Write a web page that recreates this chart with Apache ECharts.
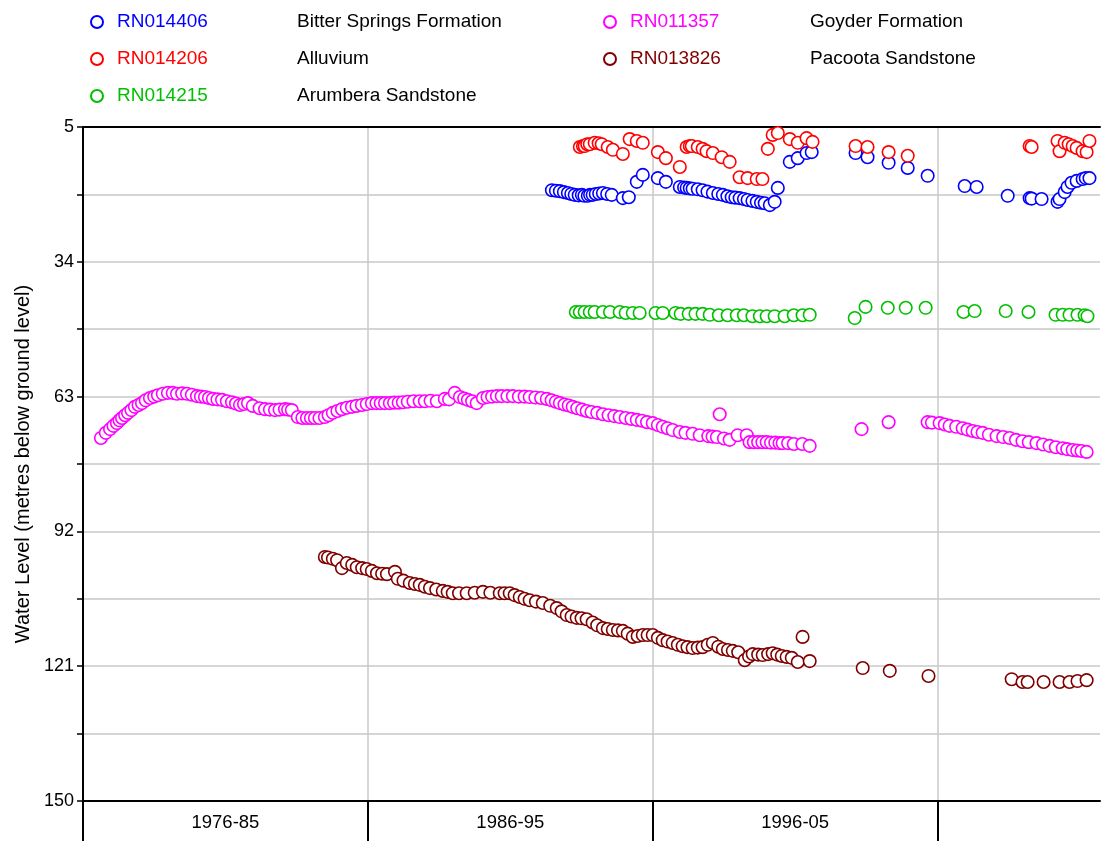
<!DOCTYPE html>
<html>
<head>
<meta charset="utf-8">
<script src="https://cdn.jsdelivr.net/npm/echarts@6/dist/echarts.min.js"></script>
<style>
  html, body { margin: 0; padding: 0; background: #fff; }
  #main { width: 1104px; height: 841px; }
</style>
</head>
<body>
<div id="main"></div>
<script>
// bore names, aquifers and colours
const bores = ["RN014406", "RN014206", "RN014215", "RN011357", "RN013826"];
const aquifers = ["Bitter Springs Formation", "Alluvium", "Arumbera Sandstone", "Goyder Formation", "Pacoota Sandstone"];
const colors = ["#0000ff", "#ff0000", "#00c000", "#ff00ff", "#800000"];

// decade labels, placed at mid-decade
const periodLabels = ["1976-85", "1986-95", "1996-05"];
const periodCentres = [1981, 1991, 2001];
const periodBounds = [1976, 1986, 1996, 2006];
const yTicks = [5, 34, 63, 92, 121, 150];

// [decimal year, water level (m below ground)]
const rn014406 = [
  [1992.46,18.6],[1992.6,18.7],[1992.74,18.8],[1992.88,19.0],[1993.02,19.2],[1993.14,19.4],[1993.26,19.6],
  [1993.4,19.7],[1993.51,19.6],[1993.6,19.8],[1993.72,19.8],[1993.8,19.6],[1993.89,19.6],[1994.0,19.4],
  [1994.12,19.3],[1994.25,19.2],[1994.4,19.4],[1994.56,19.6],[1994.95,20.3],[1995.16,20.1],[1995.44,16.8],[1995.65,15.3],
  [1996.18,16.0],[1996.46,16.8],[1996.95,17.9],[1997.1,18.0],[1997.19,18.1],[1997.3,18.2],[1997.4,18.3],[1997.58,18.4],
  [1997.75,18.6],[1997.92,18.9],[1998.11,19.2],[1998.3,19.4],[1998.46,19.6],[1998.62,19.9],[1998.77,20.1],[1998.9,20.2],
  [1999.05,20.3],[1999.2,20.5],[1999.33,20.7],[1999.5,20.9],[1999.65,21.1],[1999.8,21.3],[1999.93,21.4],[2000.11,21.8],
  [2000.28,21.1],[2000.39,18.1],[2000.81,12.5],[2001.09,11.7],[2001.4,10.6],[2001.58,10.4],
  [2003.12,10.6],[2003.54,11.5],[2004.28,12.7],[2004.95,13.8],[2005.65,15.5],
  [2006.95,17.7],[2007.37,17.9],[2008.46,19.8],[2009.23,20.3],[2009.3,20.4],[2009.65,20.5],[2010.21,21.1],[2010.28,20.5],
  [2010.46,19.0],[2010.56,17.9],[2010.7,17.0],[2010.88,16.6],[2011.09,16.2],[2011.2,16.0],[2011.33,16.0]
];
const rn014206 = [
  [1993.44,9.3],[1993.55,9.1],[1993.61,9.1],[1993.7,8.7],[1993.79,8.7],[1993.96,8.4],[1994.1,8.5],[1994.21,8.7],
  [1994.42,9.3],[1994.6,9.9],[1994.95,10.8],[1995.19,7.6],[1995.44,8.0],[1995.65,8.4],
  [1996.18,10.4],[1996.46,11.7],[1996.95,13.6],[1997.19,9.3],[1997.3,9.1],[1997.37,9.1],[1997.58,9.3],[1997.75,9.7],
  [1997.89,10.2],[1998.11,10.6],[1998.42,11.5],[1998.7,12.5],[1999.05,15.8],[1999.33,16.0],[1999.65,16.2],[1999.85,16.2],
  [2000.04,9.7],[2000.21,6.7],[2000.39,6.3],[2000.81,7.6],[2001.09,8.4],[2001.4,7.4],[2001.61,8.2],
  [2003.12,9.1],[2003.54,9.3],[2004.28,10.4],[2004.95,11.2],
  [2009.23,9.1],[2009.3,9.3],[2010.21,8.0],[2010.28,10.2],[2010.46,8.4],[2010.6,8.7],[2010.74,9.1],[2010.88,9.5],
  [2011.09,10.2],[2011.23,10.4],[2011.33,8.0]
];
const rn014215 = [
  [1993.3,44.8],[1993.44,44.8],[1993.61,44.8],[1993.79,44.8],[1993.96,44.8],[1994.25,44.8],[1994.5,44.8],[1994.84,44.8],
  [1995.05,45.0],[1995.3,45.0],[1995.54,45.0],
  [1996.1,45.0],[1996.35,45.0],[1996.8,45.0],[1996.98,45.2],[1997.26,45.2],[1997.5,45.2],[1997.75,45.2],[1998.0,45.4],
  [1998.32,45.5],[1998.63,45.5],[1998.95,45.5],[1999.2,45.5],[1999.5,45.7],[1999.76,45.7],[2000.0,45.7],[2000.28,45.7],
  [2000.63,45.7],[2000.95,45.5],[2001.26,45.5],[2001.51,45.4],
  [2003.09,46.1],[2003.47,43.7],[2004.25,43.9],[2004.88,43.9],[2005.58,43.9],
  [2006.91,44.8],[2007.3,44.6],[2008.39,44.6],[2009.19,44.8],[2010.14,45.4],[2010.39,45.4],[2010.63,45.4],[2010.91,45.4],
  [2011.16,45.5],[2011.26,45.7]
];
const rn011357 = [
  [1976.63,71.9],[1976.8,70.8],[1976.95,70.0],[1977.07,69.3],[1977.19,68.7],[1977.28,68.1],[1977.37,67.6],[1977.48,67.0],
  [1977.58,66.5],[1977.7,65.9],[1977.82,65.2],[1977.95,64.8],[1978.07,64.4],[1978.2,63.8],[1978.35,63.3],[1978.5,63.0],
  [1978.63,62.7],[1978.8,62.4],[1978.98,62.2],[1979.15,62.2],[1979.3,62.4],[1979.48,62.3],[1979.65,62.4],[1979.82,62.6],
  [1980.0,62.9],[1980.14,63.0],[1980.28,63.1],[1980.42,63.3],[1980.56,63.5],[1980.72,63.6],[1980.88,63.7],[1981.05,64.0],
  [1981.23,64.2],[1981.37,64.5],[1981.51,64.8],[1981.65,64.6],[1981.79,64.4],[1981.96,65.0],[1982.2,65.5],[1982.39,65.7],
  [1982.56,65.8],[1982.74,65.9],[1982.9,65.8],[1983.09,65.7],[1983.2,65.8],[1983.33,65.9],[1983.54,67.4],[1983.7,67.6],
  [1983.86,67.6],[1984.0,67.6],[1984.14,67.6],[1984.3,67.6],[1984.49,67.4],[1984.62,67.0],[1984.77,66.5],[1984.93,66.1],
  [1985.09,65.7],[1985.26,65.4],[1985.44,65.2],[1985.6,65.0],[1985.79,64.8],[1985.96,64.6],[1986.14,64.4],[1986.3,64.4],
  [1986.45,64.4],[1986.6,64.4],[1986.77,64.4],[1986.92,64.3],[1987.08,64.3],[1987.23,64.2],[1987.4,64.1],[1987.6,64.0],
  [1987.82,64.0],[1988.0,64.0],[1988.2,63.9],[1988.42,64.0],[1988.7,63.5],[1988.85,63.6],[1989.05,62.2],[1989.23,63.1],
  [1989.38,63.4],[1989.51,63.7],[1989.66,64.0],[1989.82,64.4],[1990.04,63.3],[1990.2,63.1],[1990.36,63.0],[1990.53,62.9],
  [1990.7,62.9],[1990.9,62.9],[1991.09,62.9],[1991.3,63.0],[1991.5,63.0],[1991.68,63.1],[1991.88,63.2],[1992.08,63.3],
  [1992.28,63.5],[1992.45,63.8],[1992.6,64.1],[1992.74,64.4],[1992.9,64.7],[1993.05,64.9],[1993.19,65.2],[1993.35,65.5],
  [1993.52,65.8],[1993.68,66.1],[1993.85,66.3],[1994.05,66.5],[1994.25,66.8],[1994.45,67.0],[1994.65,67.2],[1994.84,67.4],
  [1995.05,67.6],[1995.25,67.8],[1995.44,68.0],[1995.62,68.2],[1995.8,68.5],[1996.0,68.7],[1996.18,69.1],[1996.35,69.5],
  [1996.52,69.8],[1996.7,70.2],[1996.95,70.6],[1997.15,70.8],[1997.4,71.0],[1997.65,71.3],[1997.95,71.5],[1998.1,71.6],
  [1998.25,71.7],[1998.35,66.8],[1998.5,72.0],[1998.7,72.3],[1998.98,71.3],[1999.3,71.3],[1999.4,72.8],[1999.55,72.8],
  [1999.7,72.8],[1999.85,72.8],[2000.0,72.8],[2000.15,72.9],[2000.3,72.9],[2000.45,73.0],[2000.56,73.0],[2000.75,73.0],
  [2000.95,73.2],[2001.25,73.2],[2001.51,73.6],
  [2003.33,70.0],[2004.28,68.5],
  [2005.65,68.5],[2005.8,68.6],[2006.07,68.7],[2006.25,69.0],[2006.42,69.3],[2006.65,69.5],[2006.88,69.8],[2007.05,70.1],
  [2007.23,70.4],[2007.4,70.6],[2007.58,70.8],[2007.8,71.2],[2008.07,71.5],[2008.3,71.7],[2008.53,71.9],[2008.75,72.3],
  [2008.98,72.6],[2009.2,72.8],[2009.47,73.0],[2009.7,73.3],[2009.93,73.6],[2010.15,73.9],[2010.39,74.1],[2010.55,74.3],
  [2010.74,74.5],[2010.9,74.6],[2011.05,74.7],[2011.23,74.9]
];
const rn013826 = [
  [1984.49,97.5],[1984.6,97.6],[1984.77,97.9],[1984.92,98.2],[1985.09,99.9],[1985.26,98.8],[1985.45,99.2],[1985.61,99.7],
  [1985.8,99.9],[1985.96,100.1],[1986.14,100.5],[1986.32,101.0],[1986.5,101.1],[1986.67,101.2],[1986.95,100.7],[1987.05,102.2],
  [1987.25,102.6],[1987.47,103.1],[1987.65,103.3],[1987.82,103.5],[1988.0,103.9],[1988.18,104.2],[1988.4,104.5],[1988.63,104.8],
  [1988.8,105.0],[1988.98,105.3],[1989.2,105.3],[1989.47,105.3],[1989.75,105.2],[1990.04,105.0],[1990.3,105.2],[1990.63,105.3],
  [1990.8,105.3],[1990.98,105.3],[1991.15,105.7],[1991.33,106.1],[1991.5,106.5],[1991.68,106.8],[1991.9,107.1],[1992.14,107.4],
  [1992.4,108.0],[1992.63,108.5],[1992.8,109.2],[1992.98,110.0],[1993.15,110.3],[1993.33,110.6],[1993.5,110.7],[1993.68,110.9],
  [1993.89,111.6],[1994.05,112.2],[1994.25,112.8],[1994.42,113.0],[1994.6,113.2],[1994.78,113.3],[1994.95,113.4],[1995.12,114.0],
  [1995.3,114.7],[1995.47,114.5],[1995.65,114.3],[1995.82,114.3],[1996.0,114.3],[1996.18,114.9],[1996.35,115.4],[1996.52,115.7],
  [1996.7,116.0],[1996.88,116.4],[1997.05,116.7],[1997.22,116.9],[1997.4,117.1],[1997.58,117.0],[1997.75,116.9],[1997.93,116.4],
  [1998.11,116.0],[1998.3,116.8],[1998.46,117.3],[1998.64,117.5],[1998.81,117.7],[1999.0,118.0],[1999.23,119.7],[1999.38,118.9],
  [1999.51,118.4],[1999.7,118.5],[1999.86,118.6],[2000.05,118.4],[2000.21,118.2],[2000.37,118.5],[2000.53,118.8],[2000.7,119.0],
  [2000.88,119.2],[2001.09,120.1],[2001.26,114.7],[2001.51,119.9],
  [2003.37,121.4],[2004.32,122.0],[2005.68,123.1],
  [2008.6,123.8],[2008.98,124.4],[2009.16,124.4],[2009.72,124.4],[2010.28,124.4],[2010.63,124.4],[2010.91,124.2],[2011.23,124.0]
];
const seriesData = [rn014406, rn014206, rn014215, rn011357, rn013826];

const font = "Liberation Sans, Arial, sans-serif";
const chart = echarts.init(document.getElementById("main"));

// one rich style per bore so the bore id keeps its colour in the legend
const rich = { d: { color: "#000", fontSize: 19, fontFamily: font } };
bores.forEach((b, i) => {
  rich["c" + i] = { color: colors[i], fontSize: 19, fontFamily: font, width: 180 };
});
const legendFormatter = (name) => {
  const i = bores.indexOf(name);
  return "{c" + i + "|" + name + "}{d|" + aquifers[i] + "}";
};
const legendBase = {
  orient: "vertical",
  top: 6,
  itemWidth: 30,
  itemHeight: 12,
  itemGap: 15,
  formatter: legendFormatter,
  textStyle: { rich: rich, lineHeight: 22 },
};

const option = {
  animation: false,
  grid: { left: 83, right: 4, top: 127, bottom: 40 },
  legend: [
    Object.assign({}, legendBase, { left: 85, data: bores.slice(0, 3) }),
    Object.assign({}, legendBase, { left: 598, data: bores.slice(3) }),
  ],
  xAxis: [
    {
      type: "value",
      min: 1976,
      max: 2011.7,
      interval: 10,
      axisLine: { lineStyle: { color: "#000", width: 2 } },
      axisTick: { customValues: periodBounds, length: 40, lineStyle: { color: "#000", width: 2 } },
      axisLabel: {
        customValues: periodCentres,
        formatter: (v) => periodLabels[periodCentres.indexOf(v)],
        color: "#000",
        fontSize: 18.5,
        fontFamily: font,
        margin: 12,
      },
      splitLine: { show: true, lineStyle: { color: "#c8c8c8", width: 1.5 } },
    },
    {
      type: "value",
      position: "top",
      min: 1976,
      max: 2011.7,
      axisLine: { show: true, onZero: false, lineStyle: { color: "#000", width: 2 } },
      axisTick: { show: false },
      axisLabel: { show: false },
      splitLine: { show: false },
    },
  ],
  yAxis: {
    type: "value",
    inverse: true,
    min: 5,
    max: 150,
    interval: 29,
    name: "Water Level (metres below ground level)",
    nameLocation: "middle",
    nameGap: 46,
    nameTextStyle: { color: "#000", fontSize: 20, fontFamily: font },
    axisLine: { show: true, lineStyle: { color: "#000", width: 2 } },
    axisTick: { show: true, length: 6, lineStyle: { color: "#000", width: 1.5 } },
    minorTick: { show: true, splitNumber: 2, length: 6, lineStyle: { color: "#000", width: 1.5 } },
    axisLabel: {
      customValues: yTicks,
      color: "#000",
      fontSize: 18,
      fontFamily: font,
      margin: 9,
    },
    splitLine: { show: true, lineStyle: { color: "#c8c8c8", width: 1.5 } },
    minorSplitLine: { show: true, lineStyle: { color: "#c8c8c8", width: 1.5 } },
  },
  series: bores.map((b, i) => ({
    name: b,
    type: "scatter",
    symbol: "circle",
    symbolSize: 12.5,
    data: seriesData[i],
    itemStyle: { color: "#fff", borderColor: colors[i], borderWidth: 1.6, opacity: 1 },
  })),
};
chart.setOption(option);
</script>
</body>
</html>
